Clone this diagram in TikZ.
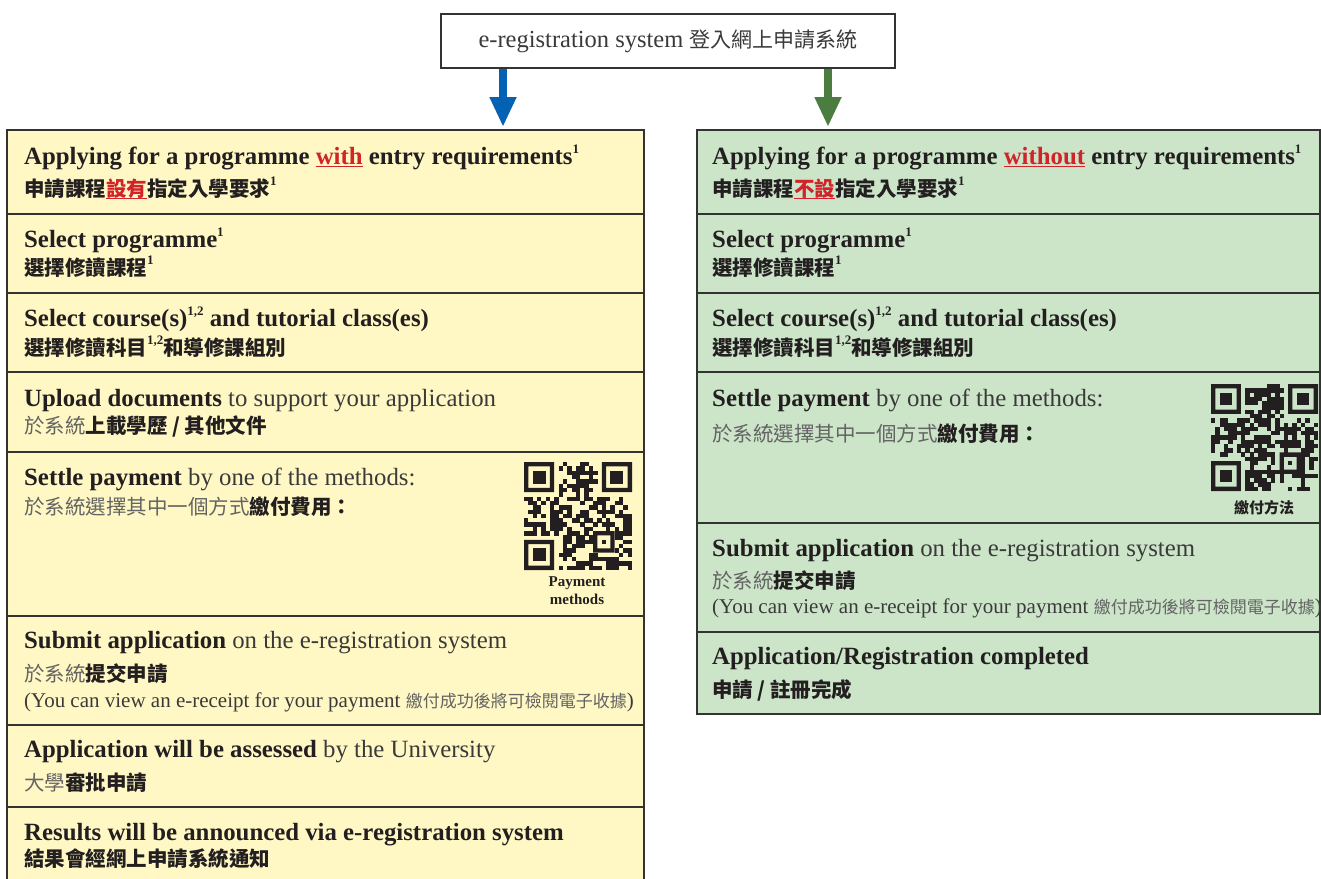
\documentclass[tikz,border=0pt]{standalone}
\usepackage{fontspec}
\setmainfont{Liberation Serif}
\newfontfamily\cjk{Noto Sans CJK TC}
\usetikzlibrary{arrows.meta}
\definecolor{yfill}{HTML}{FFF8C4}
\definecolor{gfill}{HTML}{CCE5C9}
\definecolor{bordc}{HTML}{333333}
\definecolor{blueA}{HTML}{0462B5}
\definecolor{greenA}{HTML}{4A7D3F}
\definecolor{redT}{HTML}{D2232A}
\definecolor{inkB}{HTML}{231F20}
\definecolor{inkR}{HTML}{3A3A3A}
\definecolor{inkZ}{HTML}{646464}
\newcommand\sups[1]{\raisebox{0.42em}{\fontsize{13}{13}\selectfont #1}}
\newcommand\zh[1]{{\cjk\fontsize{20.5}{24}\selectfont\mdseries\color{inkZ}#1}}
\newcommand\zhb[1]{{\cjk\fontsize{20.5}{24}\selectfont\bfseries\color{inkB}#1}}
\newcommand\zhs[1]{{\cjk\fontsize{17}{20}\selectfont\mdseries\color{inkZ}#1}}
\newcommand\rg[1]{{\mdseries\color{inkR}#1}}
\newcommand\redul[1]{{\color{redT}\setbox0\hbox{#1}\rlap{\rule[-3.2pt]{\wd0}{1.3pt}}\box0}}
\newcommand\qrcode[4]{%
\begin{scope}[shift={(#1,#2)}, x=#3pt, y=-#3pt]
 \pgfmathsetseed{#4}
 \fill[inkB, even odd rule] (0,0) rectangle (7,7) (1,1) rectangle (6,6);
 \fill[inkB] (2,2) rectangle (5,5);
 \fill[inkB, even odd rule] (18,0) rectangle (25,7) (19,1) rectangle (24,6);
 \fill[inkB] (20,2) rectangle (23,5);
 \fill[inkB, even odd rule] (0,18) rectangle (7,25) (1,19) rectangle (6,24);
 \fill[inkB] (2,20) rectangle (5,23);
 \fill[inkB, even odd rule] (16,16) rectangle (21,21) (17,17) rectangle (20,20);
 \fill[inkB] (18,18) rectangle (19,19);
 \foreach \i in {0,...,24}{\foreach \j in {0,...,24}{%
   \pgfmathtruncatemacro\qrskip{((\i<8)&&(\j<8)) || ((\i>16)&&(\j<8)) || ((\i<8)&&(\j>16)) || ((\i>15)&&(\i<21)&&(\j>15)&&(\j<21))}%
   \pgfmathtruncatemacro\qron{rnd<0.58}%
   \ifnum\qrskip=0 \ifnum\qron=1 \fill[inkB] (\i,\j) rectangle ++(1.02,1.02);\fi\fi
 }}
\end{scope}}
\tikzset{
 row/.style={draw=bordc, line width=1.4pt, anchor=north west, inner sep=0pt, outer sep=0pt},
 rowY/.style={row, fill=yfill, minimum width=637pt},
 rowG/.style={row, fill=gfill, minimum width=623pt},
 txt/.style={anchor=base west, inner sep=0pt, text=inkB, font=\fontsize{24.8}{28}\selectfont},
 small/.style={anchor=base west, inner sep=0pt, text=inkR, font=\fontsize{21}{24}\selectfont},
 topbox/.style={draw=bordc, line width=1.2pt, fill=white, minimum width=454pt, minimum height=54pt, inner sep=0pt, text=inkR, font=\fontsize{24.5}{28}\selectfont},
 bigarrow/.style={line width=8pt, -{Triangle[width=25pt,length=30pt]}, shorten >=3pt}
}
\begin{document}
\begin{tikzpicture}[x=1pt,y=-1pt]
\useasboundingbox (0,0) rectangle (1321,878);
% top box
\node[topbox] (top) at (668,41) {e-registration system {\cjk\fontsize{21}{24}\selectfont 登入網上申請系統}};
% left rows
\node[rowY, minimum height=84pt] (L1) at (7,130) {};
\node[rowY, minimum height=79pt] (L2) at (7,214) {};
\node[rowY, minimum height=79pt] (L3) at (7,293) {};
\node[rowY, minimum height=80pt] (L4) at (7,372) {};
\node[rowY, minimum height=164pt] (L5) at (7,452) {};
\node[rowY, minimum height=109pt] (L6) at (7,616) {};
\node[rowY, minimum height=82pt] (L7) at (7,725) {};
\node[rowY, minimum height=80pt] (L8) at (7,807) {};
% right rows
\node[rowG, minimum height=84pt] (R1) at (697,130) {};
\node[rowG, minimum height=79pt] (R2) at (697,214) {};
\node[rowG, minimum height=79pt] (R3) at (697,293) {};
\node[rowG, minimum height=151pt] (R4) at (697,372) {};
\node[rowG, minimum height=109pt] (R5) at (697,523) {};
\node[rowG, minimum height=82pt] (R6) at (697,632) {};
% arrows
\coordinate (ab) at (503,0);
\coordinate (ag) at (828,0);
\draw[bigarrow, blueA] (top.south -| ab) -- (L1.north -| ab);
\draw[bigarrow, greenA] (top.south -| ag) -- (R1.north -| ag);
% left texts
\node[txt] (l1a) at (24,164) {\textbf{Applying for a programme \redul{with} entry requirements\sups{1}}};
\node[txt] (l1b) at (24,196) {\zhb{申請課程\redul{設有}指定入學要求}\textbf{\sups{1}}};
\node[txt] (l2a) at (24,247) {\textbf{Select programme\sups{1}}};
\node[txt] (l2b) at (24,275) {\zhb{選擇修讀課程}\textbf{\sups{1}}};
\node[txt] (l3a) at (24,326) {\textbf{Select course(s)\sups{1,2} and tutorial class(es)}};
\node[txt] (l3b) at (24,355) {\zhb{選擇修讀科目}\textbf{\sups{1,2}}\zhb{和導修課組別}};
\node[txt] (l4a) at (24,406) {\textbf{Upload documents} \rg{to support your application}};
\node[txt] (l4b) at (24,433) {\zh{於系統}\zhb{上載學歷 / 其他文件}};
\node[txt] (l5a) at (24,485) {\textbf{Settle payment} \rg{by one of the methods:}};
\node[txt] (l5b) at (24,514) {\zh{於系統選擇其中一個方式}\zhb{繳付費用：}};
\qrcode{524}{462}{4.32}{4711}
\node[align=center, inner sep=0pt, text=inkB, font=\fontsize{15}{18}\selectfont\bfseries] (qlab) at (577,591) {Payment\\methods};
\node[txt] (l6a) at (24,648) {\textbf{Submit application} \rg{on the e-registration system}};
\node[txt] (l6b) at (24,681) {\zh{於系統}\zhb{提交申請}};
\node[small] (l6c) at (24,707) {(You can view an e-receipt for your payment \zhs{繳付成功後將可檢閱電子收據})};
\node[txt] (l7a) at (24,757) {\textbf{Application will be assessed} \rg{by the University}};
\node[txt] (l7b) at (24,790) {\zh{大學}\zhb{審批申請}};
\node[txt] (l8a) at (24,840) {\textbf{Results will be announced via e-registration system}};
\node[txt] (l8b) at (24,866) {\zhb{結果會經網上申請系統通知}};
% right texts
\node[txt] (r1a) at (712,164) {\textbf{Applying for a programme \redul{without} entry requirements\sups{1}}};
\node[txt] (r1b) at (712,196) {\zhb{申請課程\redul{不設}指定入學要求}\textbf{\sups{1}}};
\node[txt] (r2a) at (712,247) {\textbf{Select programme\sups{1}}};
\node[txt] (r2b) at (712,275) {\zhb{選擇修讀課程}\textbf{\sups{1}}};
\node[txt] (r3a) at (712,326) {\textbf{Select course(s)\sups{1,2} and tutorial class(es)}};
\node[txt] (r3b) at (712,355) {\zhb{選擇修讀科目}\textbf{\sups{1,2}}\zhb{和導修課組別}};
\node[txt] (r4a) at (712,406) {\textbf{Settle payment} \rg{by one of the methods:}};
\node[txt] (r4b) at (712,441) {\zh{於系統選擇其中一個方式}\zhb{繳付費用：}};
\qrcode{1211}{384}{4.28}{815}
\node[inner sep=0pt] (qrlab) at (1264,508) {{\cjk\fontsize{15}{18}\selectfont\bfseries\color{inkB}繳付方法}};
\node[txt] (r5a) at (712,556) {\textbf{Submit application} \rg{on the e-registration system}};
\node[txt] (r5b) at (712,588) {\zh{於系統}\zhb{提交申請}};
\node[small] (r5c) at (712,613) {(You can view an e-receipt for your payment \zhs{繳付成功後將可檢閱電子收據})};
\node[txt] (r6a) at (712,664) {\textbf{Application/Registration completed}};
\node[txt] (r6b) at (712,697) {\zhb{申請 / 註冊完成}};
\end{tikzpicture}
\end{document}
